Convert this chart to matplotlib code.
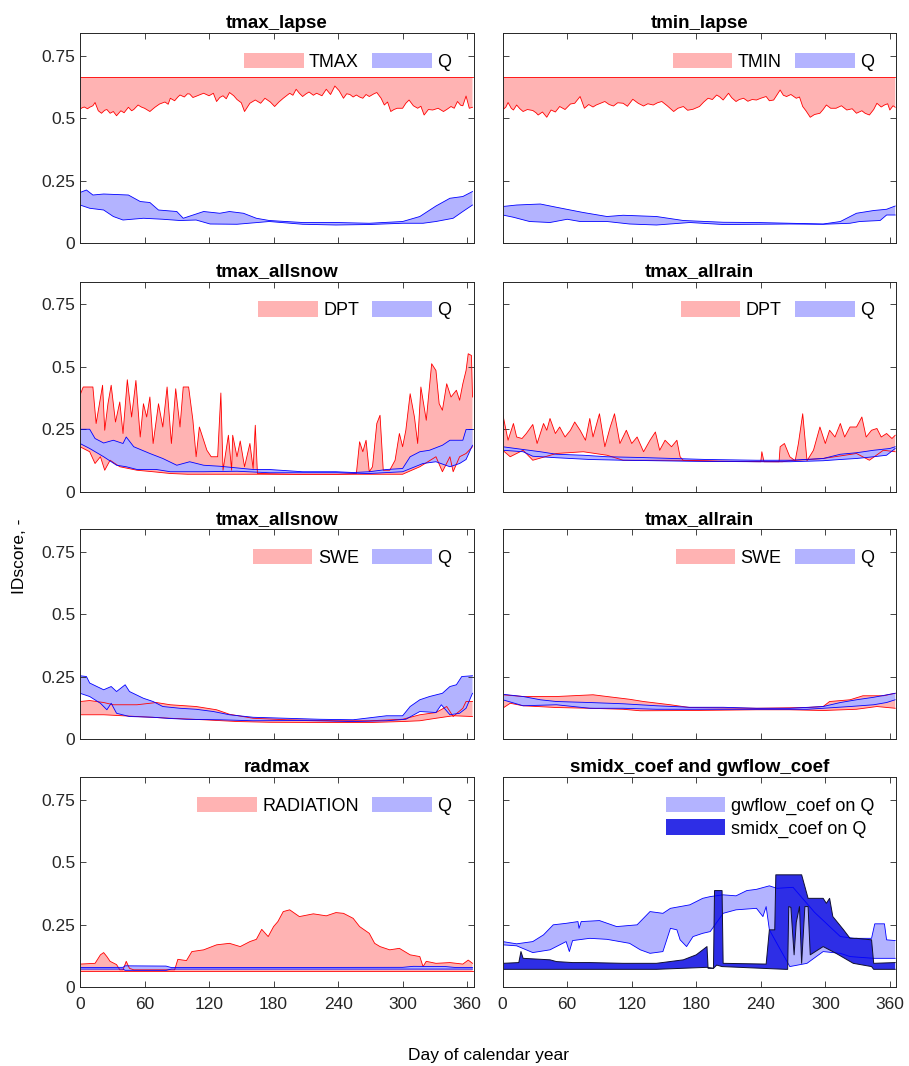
import numpy as np
import matplotlib
matplotlib.use("Agg")
import matplotlib.pyplot as plt
from matplotlib.patches import Patch

plt.rcParams['font.family'] = ['Liberation Sans', 'DejaVu Sans']

# ---- tmax_lapse ----
tmax_top = 0.665
tmax_lo_d = [0, 2, 4, 7, 9, 12, 14, 17, 20, 23, 25, 28, 31, 34, 38, 41, 45, 48, 50, 54, 57, 60, 65, 68, 70, 74,
             79, 82, 84, 88, 91, 93, 97, 100, 102, 105, 108, 112, 115, 120, 124, 127, 130, 133, 136, 139, 143,
             146, 150, 153, 158, 163, 168, 172, 177, 181, 185, 189, 192, 195, 198, 201, 204, 207, 210, 213, 217,
             220, 225, 229, 233, 237, 241, 245, 248, 251, 254, 257, 260, 263, 266, 269, 273, 276, 280, 283, 286,
             289, 292, 295, 300, 303, 306, 310, 314, 317, 320, 324, 328, 333, 338, 341, 345, 348, 351, 354, 356,
             359, 362, 365]
tmax_lo_v = [0.536, 0.542, 0.545, 0.538, 0.544, 0.55, 0.563, 0.53, 0.52, 0.532, 0.535, 0.52, 0.527, 0.51, 0.53,
             0.522, 0.544, 0.53, 0.535, 0.553, 0.545, 0.54, 0.527, 0.538, 0.545, 0.557, 0.565, 0.556, 0.58, 0.57,
             0.585, 0.593, 0.585, 0.598, 0.597, 0.583, 0.588, 0.595, 0.60, 0.59, 0.6, 0.567, 0.583, 0.59, 0.578,
             0.603, 0.59, 0.575, 0.562, 0.527, 0.56, 0.573, 0.56, 0.58, 0.565, 0.547, 0.565, 0.58, 0.59, 0.60,
             0.592, 0.616, 0.6, 0.587, 0.597, 0.605, 0.592, 0.60, 0.59, 0.616, 0.595, 0.629, 0.61, 0.58, 0.598,
             0.595, 0.585, 0.593, 0.585, 0.58, 0.595, 0.587, 0.597, 0.603, 0.58, 0.553, 0.565, 0.527, 0.535,
             0.54, 0.54, 0.56, 0.573, 0.55, 0.54, 0.548, 0.513, 0.535, 0.533, 0.54, 0.527, 0.535, 0.547, 0.54,
             0.567, 0.552, 0.55, 0.589, 0.54, 0.544]
q1_hi_d = [0, 6, 12, 22, 45, 56, 65, 73, 90, 96, 115, 130, 139, 152, 164, 176, 207, 238, 269, 300, 316, 331, 344, 356, 365]
q1_hi_v = [0.203, 0.213, 0.193, 0.197, 0.193, 0.167, 0.163, 0.133, 0.127, 0.10, 0.127, 0.12, 0.127, 0.12, 0.10,
           0.091, 0.083, 0.083, 0.08, 0.087, 0.107, 0.149, 0.18, 0.187, 0.207]
q1_lo_d = [0, 9, 22, 31, 40, 59, 77, 93, 108, 121, 146, 176, 207, 238, 269, 300, 319, 331, 347, 356, 365]
q1_lo_v = [0.153, 0.14, 0.133, 0.107, 0.093, 0.10, 0.096, 0.091, 0.093, 0.077, 0.076, 0.087, 0.076, 0.073, 0.075,
           0.08, 0.08, 0.087, 0.10, 0.127, 0.153]

# ---- tmin_lapse ----
tmin_top = 0.665
tmin_lo_d = [0, 3, 5, 8, 10, 13, 16, 19, 23, 28, 31, 33, 37, 41, 45, 49, 53, 58, 63, 67, 72, 76, 80, 84, 87, 91,
             95, 99, 103, 107, 112, 116, 121, 126, 131, 135, 140, 144, 148, 153, 159, 163, 168, 172, 177, 183,
             187, 191, 195, 199, 202, 205, 210, 213, 217, 220, 224, 228, 232, 236, 240, 245, 248, 252, 258, 261,
             264, 268, 273, 276, 279, 282, 286, 290, 295, 298, 301, 305, 310, 315, 320, 325, 329, 334, 337, 341,
             345, 348, 352, 355, 358, 360, 363, 365]
tmin_lo_v = [0.533, 0.545, 0.563, 0.54, 0.533, 0.553, 0.538, 0.527, 0.535, 0.531, 0.522, 0.513, 0.525, 0.504,
             0.533, 0.525, 0.547, 0.535, 0.557, 0.56, 0.587, 0.54, 0.555, 0.545, 0.553, 0.56, 0.567, 0.555, 0.549,
             0.562, 0.56, 0.548, 0.576, 0.56, 0.549, 0.558, 0.553, 0.562, 0.567, 0.55, 0.527, 0.54, 0.547, 0.532,
             0.536, 0.547, 0.565, 0.58, 0.575, 0.593, 0.585, 0.573, 0.60, 0.582, 0.567, 0.575, 0.58, 0.568, 0.575,
             0.573, 0.58, 0.587, 0.57, 0.573, 0.613, 0.592, 0.587, 0.595, 0.58, 0.585, 0.547, 0.53, 0.504, 0.515,
             0.52, 0.535, 0.553, 0.54, 0.54, 0.55, 0.533, 0.538, 0.52, 0.53, 0.52, 0.513, 0.535, 0.56, 0.545,
             0.553, 0.558, 0.533, 0.55, 0.544]
q2_hi_d = [0, 13, 35, 50, 63, 75, 97, 112, 143, 168, 205, 236, 267, 298, 314, 329, 345, 357, 365]
q2_hi_v = [0.147, 0.153, 0.157, 0.144, 0.133, 0.123, 0.107, 0.112, 0.107, 0.091, 0.084, 0.083, 0.08, 0.077,
           0.087, 0.12, 0.131, 0.136, 0.149]
q2_lo_d = [0, 10, 25, 44, 60, 72, 97, 118, 143, 174, 205, 236, 267, 298, 323, 332, 351, 357, 365]
q2_lo_v = [0.113, 0.104, 0.087, 0.083, 0.096, 0.087, 0.087, 0.077, 0.073, 0.083, 0.075, 0.076, 0.077, 0.076,
           0.08, 0.087, 0.091, 0.113, 0.113]

# ---- tmax_allsnow, DPT ----
dpt3_hi_d = [0, 3, 12, 15, 21, 23, 26, 29, 33, 37, 40, 44, 48, 52, 56, 59, 62, 65, 68, 73, 77, 81, 85, 89, 93,
             96, 101, 105, 108, 111, 118, 122, 128, 131, 133, 138, 141, 142, 146, 149, 153, 158, 161, 163, 165,
             200, 240, 257, 260, 263, 266, 269, 272, 276, 279, 282, 288, 293, 297, 300, 303, 307, 311, 314, 317,
             322, 327, 331, 334, 337, 341, 345, 350, 353, 356, 359, 361, 364, 365]
dpt3_hi_v = [0.386, 0.419, 0.419, 0.273, 0.426, 0.246, 0.352, 0.426, 0.279, 0.359, 0.233, 0.448, 0.299, 0.445,
             0.219, 0.352, 0.299, 0.379, 0.193, 0.352, 0.259, 0.419, 0.193, 0.412, 0.259, 0.419, 0.419, 0.286,
             0.14, 0.259, 0.166, 0.14, 0.14, 0.395, 0.086, 0.226, 0.086, 0.226, 0.14, 0.203, 0.10, 0.193, 0.093,
             0.266, 0.073, 0.07, 0.07, 0.073, 0.20, 0.16, 0.206, 0.08, 0.10, 0.273, 0.306, 0.086, 0.086, 0.126,
             0.233, 0.18, 0.246, 0.392, 0.299, 0.193, 0.419, 0.286, 0.512, 0.485, 0.352, 0.326, 0.432, 0.379,
             0.406, 0.366, 0.432, 0.485, 0.552, 0.545, 0.379]
dpt3_lo_d = [0, 9, 14, 19, 23, 28, 37, 53, 68, 84, 100, 160, 200, 260, 300, 316, 331, 337, 344, 347, 353, 359, 365]
dpt3_lo_v = [0.18, 0.16, 0.113, 0.14, 0.086, 0.126, 0.10, 0.086, 0.08, 0.073, 0.07, 0.07, 0.07, 0.07, 0.07,
             0.10, 0.14, 0.08, 0.14, 0.08, 0.14, 0.153, 0.18]
q3_hi_d = [0, 9, 14, 22, 31, 40, 43, 50, 65, 77, 90, 102, 115, 130, 161, 176, 207, 238, 254, 269, 285, 300, 307,
           316, 325, 337, 344, 356, 359, 365]
q3_hi_v = [0.25, 0.25, 0.213, 0.195, 0.206, 0.193, 0.219, 0.18, 0.153, 0.133, 0.106, 0.12, 0.106, 0.102, 0.089,
           0.089, 0.08, 0.08, 0.077, 0.08, 0.089, 0.093, 0.14, 0.16, 0.166, 0.186, 0.206, 0.206, 0.249, 0.249]
q3_lo_d = [0, 9, 22, 34, 43, 53, 71, 84, 115, 146, 176, 207, 238, 269, 300, 319, 331, 344, 353, 359, 365]
q3_lo_v = [0.193, 0.173, 0.14, 0.106, 0.10, 0.089, 0.089, 0.08, 0.08, 0.082, 0.076, 0.076, 0.076, 0.073, 0.08,
           0.113, 0.12, 0.10, 0.113, 0.129, 0.186]

# ---- tmax_allrain, DPT ----
dpt4_hi_d = [0, 5, 10, 13, 18, 22, 28, 32, 38, 41, 44, 49, 53, 58, 63, 67, 72, 77, 81, 84, 90, 95, 100, 104, 109,
             115, 120, 125, 131, 137, 142, 146, 151, 157, 162, 165, 168, 200, 240, 241, 243, 257, 258, 262, 267,
             272, 275, 279, 283, 289, 295, 300, 304, 309, 314, 318, 323, 329, 334, 338, 343, 348, 352, 357, 362, 365]
dpt4_hi_v = [0.312, 0.206, 0.273, 0.219, 0.213, 0.233, 0.269, 0.193, 0.273, 0.246, 0.293, 0.233, 0.259, 0.219,
             0.246, 0.279, 0.246, 0.206, 0.293, 0.219, 0.312, 0.18, 0.259, 0.312, 0.193, 0.246, 0.193, 0.219, 0.16,
             0.206, 0.239, 0.166, 0.206, 0.18, 0.206, 0.14, 0.125, 0.122, 0.12, 0.16, 0.12, 0.12, 0.18, 0.193,
             0.14, 0.124, 0.193, 0.312, 0.124, 0.166, 0.259, 0.193, 0.246, 0.219, 0.273, 0.219, 0.259, 0.259,
             0.299, 0.219, 0.246, 0.253, 0.219, 0.233, 0.213, 0.226]
dpt4_lo_d = [0, 7, 19, 28, 50, 75, 97, 112, 143, 165, 200, 260, 267, 298, 329, 341, 354, 365]
dpt4_lo_v = [0.166, 0.14, 0.166, 0.126, 0.153, 0.16, 0.146, 0.126, 0.126, 0.126, 0.122, 0.12, 0.124, 0.133,
             0.153, 0.126, 0.166, 0.16]
q4_hi_d = [0, 19, 35, 50, 75, 97, 128, 159, 190, 236, 267, 298, 314, 329, 345, 360, 365]
q4_hi_v = [0.18, 0.169, 0.16, 0.15, 0.146, 0.14, 0.137, 0.133, 0.129, 0.126, 0.126, 0.133, 0.15, 0.156, 0.166,
           0.173, 0.18]
q4_lo_d = [0, 19, 28, 50, 81, 112, 143, 174, 236, 267, 298, 314, 329, 345, 357, 365]
q4_lo_v = [0.166, 0.16, 0.142, 0.136, 0.129, 0.126, 0.124, 0.122, 0.12, 0.12, 0.124, 0.129, 0.133, 0.14, 0.146,
           0.173]

# ---- tmax_allsnow, SWE ----
swe5_hi_d = [0, 9, 22, 31, 53, 71, 84, 108, 127, 139, 161, 192, 238, 269, 300, 316, 331, 341, 347, 356, 359, 365]
swe5_hi_v = [0.151, 0.155, 0.147, 0.138, 0.138, 0.147, 0.138, 0.131, 0.118, 0.10, 0.084, 0.078, 0.074, 0.074,
             0.08, 0.098, 0.107, 0.131, 0.091, 0.124, 0.151, 0.151]
swe5_lo_d = [0, 22, 53, 84, 115, 146, 176, 238, 269, 300, 316, 331, 347, 365]
swe5_lo_v = [0.098, 0.098, 0.091, 0.084, 0.078, 0.071, 0.068, 0.067, 0.067, 0.071, 0.074, 0.084, 0.094, 0.091]
q5_hi_d = [0, 6, 9, 22, 29, 34, 42, 46, 59, 68, 77, 93, 108, 124, 139, 161, 192, 223, 254, 285, 300, 307, 316,
           325, 337, 344, 350, 355, 365]
q5_hi_v = [0.254, 0.251, 0.225, 0.198, 0.211, 0.191, 0.218, 0.191, 0.164, 0.151, 0.131, 0.124, 0.12, 0.111,
           0.098, 0.088, 0.084, 0.08, 0.078, 0.094, 0.094, 0.131, 0.158, 0.171, 0.184, 0.211, 0.218, 0.251, 0.254]
q5_lo_d = [0, 9, 19, 25, 29, 34, 46, 68, 84, 99, 130, 161, 207, 254, 285, 303, 316, 331, 336, 344, 353, 359, 365]
q5_lo_v = [0.184, 0.171, 0.144, 0.118, 0.144, 0.104, 0.091, 0.088, 0.083, 0.08, 0.078, 0.074, 0.075, 0.071,
           0.074, 0.08, 0.111, 0.107, 0.138, 0.098, 0.104, 0.124, 0.184]

# ---- tmax_allrain, SWE ----
swe6_hi_d = [0, 19, 50, 84, 97, 118, 131, 156, 174, 236, 283, 298, 304, 323, 335, 354, 365]
swe6_hi_v = [0.178, 0.171, 0.171, 0.178, 0.171, 0.16, 0.151, 0.138, 0.127, 0.124, 0.127, 0.131, 0.151, 0.158,
             0.174, 0.174, 0.184]
swe6_lo_d = [0, 7, 19, 50, 81, 112, 128, 174, 236, 267, 298, 329, 348, 365]
swe6_lo_v = [0.124, 0.144, 0.134, 0.127, 0.124, 0.12, 0.114, 0.115, 0.118, 0.118, 0.115, 0.12, 0.131, 0.124]
q6_hi_d = [0, 19, 35, 50, 81, 112, 143, 174, 205, 236, 267, 298, 314, 329, 345, 365]
q6_hi_v = [0.18, 0.171, 0.158, 0.151, 0.147, 0.142, 0.134, 0.128, 0.128, 0.124, 0.124, 0.131, 0.147, 0.158,
           0.168, 0.184]
q6_lo_d = [0, 19, 50, 81, 112, 143, 174, 236, 283, 298, 323, 345, 357, 365]
q6_lo_v = [0.158, 0.134, 0.138, 0.124, 0.124, 0.12, 0.12, 0.12, 0.12, 0.124, 0.131, 0.138, 0.147, 0.158]

# ---- radmax ----
rad_bottom = 0.065
rad_hi_d = [0, 14, 19, 22, 25, 28, 34, 37, 40, 43, 46, 50, 88, 91, 99, 104, 115, 127, 139, 149, 158, 164, 169,
            175, 180, 184, 189, 195, 204, 217, 229, 238, 245, 254, 260, 269, 274, 279, 288, 297, 307, 316, 319,
            322, 331, 344, 356, 361, 365]
rad_hi_v = [0.093, 0.096, 0.13, 0.139, 0.123, 0.104, 0.091, 0.07, 0.07, 0.104, 0.076, 0.07, 0.07, 0.112, 0.107,
            0.143, 0.15, 0.17, 0.176, 0.163, 0.183, 0.192, 0.232, 0.203, 0.243, 0.263, 0.303, 0.31, 0.283, 0.294,
            0.286, 0.299, 0.296, 0.276, 0.243, 0.216, 0.176, 0.163, 0.15, 0.156, 0.13, 0.123, 0.083, 0.104,
            0.096, 0.099, 0.093, 0.109, 0.096]
q7_hi_d = [0, 40, 42, 80, 85, 300, 310, 340, 350, 365]
q7_hi_v = [0.079, 0.08, 0.086, 0.085, 0.079, 0.08, 0.084, 0.083, 0.079, 0.079]
q7_lo_d = [0, 40, 42, 80, 85, 365]
q7_lo_v = [0.073, 0.073, 0.068, 0.068, 0.073, 0.073]

# ---- smidx_coef and gwflow_coef ----
gw_hi_d = [0, 13, 28, 38, 47, 59, 70, 71, 73, 90, 106, 125, 137, 149, 156, 165, 174, 186, 193, 205, 217, 227,
           236, 248, 255, 270, 290, 314, 327, 343, 346, 355, 357, 365]
gw_hi_v = [0.183, 0.174, 0.183, 0.21, 0.25, 0.256, 0.263, 0.236, 0.263, 0.267, 0.243, 0.25, 0.303, 0.296, 0.316,
           0.323, 0.33, 0.356, 0.363, 0.37, 0.366, 0.387, 0.392, 0.406, 0.396, 0.40, 0.30, 0.203, 0.196, 0.196,
           0.254, 0.254, 0.19, 0.187]
gw_lo_d = [0, 13, 28, 44, 59, 62, 65, 81, 97, 118, 128, 137, 149, 156, 162, 165, 171, 177, 186, 193, 205, 217,
           236, 242, 245, 248, 267, 283, 298, 314, 323, 345, 365]
gw_lo_v = [0.17, 0.166, 0.139, 0.15, 0.183, 0.143, 0.187, 0.196, 0.192, 0.176, 0.15, 0.136, 0.143, 0.236, 0.23,
           0.19, 0.163, 0.203, 0.216, 0.223, 0.296, 0.31, 0.316, 0.283, 0.323, 0.23, 0.083, 0.096, 0.143, 0.136,
           0.123, 0.116, 0.116]
sm_hi_d = [0, 15, 17, 19, 44, 50, 65, 81, 112, 143, 168, 180, 190, 191, 196, 197, 204, 205, 245, 248, 253, 254,
           278, 284, 298, 301, 304, 307, 317, 323, 329, 343, 345, 365]
sm_hi_v = [0.096, 0.099, 0.143, 0.116, 0.11, 0.103, 0.099, 0.099, 0.096, 0.096, 0.11, 0.13, 0.163, 0.076, 0.076,
           0.387, 0.387, 0.096, 0.093, 0.23, 0.23, 0.45, 0.45, 0.356, 0.356, 0.336, 0.356, 0.283, 0.23, 0.196,
           0.196, 0.19, 0.096, 0.099]
sm_lo_d = [0, 143, 190, 196, 199, 204, 263, 265, 266, 268, 271, 273, 276, 278, 281, 284, 286, 298, 310, 326, 343,
           345, 365]
sm_lo_v = [0.072, 0.072, 0.08, 0.076, 0.089, 0.083, 0.072, 0.072, 0.323, 0.32, 0.13, 0.26, 0.323, 0.096, 0.323,
           0.323, 0.13, 0.163, 0.136, 0.096, 0.083, 0.072, 0.072]

RED_FILL, RED_EDGE = '#ffb3b3', '#ff0000'
BLUE_FILL, BLUE_EDGE = '#b3b3ff', '#0000ff'
DARK_FILL = '#2e2ee6'


def band(ax, hd, hv, ld, lv, fc, ec, lw=0.6):
    hd, hv, ld, lv = map(np.asarray, (hd, hv, ld, lv))
    ax.fill(np.r_[hd, ld[::-1]], np.r_[hv, lv[::-1]], fc=fc, ec='none')
    ax.plot(hd, hv, color=ec, lw=lw)
    ax.plot(ld, lv, color=ec, lw=lw)


fig = plt.figure(figsize=(9.09, 10.66), dpi=100)
lefts = [0.088, 0.553]
bottoms = [0.7718, 0.5387, 0.3065, 0.0738]
W, H = 0.4330, 0.197
axes = [[fig.add_axes([lefts[c], bottoms[r], W, H]) for c in range(2)] for r in range(4)]

full = [0, 365]
panels = [
    (axes[0][0], 'tmax_lapse', 'TMAX',
     (full, [tmax_top] * 2, tmax_lo_d, tmax_lo_v), (q1_hi_d, q1_hi_v, q1_lo_d, q1_lo_v)),
    (axes[0][1], 'tmin_lapse', 'TMIN',
     (full, [tmin_top] * 2, tmin_lo_d, tmin_lo_v), (q2_hi_d, q2_hi_v, q2_lo_d, q2_lo_v)),
    (axes[1][0], 'tmax_allsnow', 'DPT',
     (dpt3_hi_d, dpt3_hi_v, dpt3_lo_d, dpt3_lo_v), (q3_hi_d, q3_hi_v, q3_lo_d, q3_lo_v)),
    (axes[1][1], 'tmax_allrain', 'DPT',
     (dpt4_hi_d, dpt4_hi_v, dpt4_lo_d, dpt4_lo_v), (q4_hi_d, q4_hi_v, q4_lo_d, q4_lo_v)),
    (axes[2][0], 'tmax_allsnow', 'SWE',
     (swe5_hi_d, swe5_hi_v, swe5_lo_d, swe5_lo_v), (q5_hi_d, q5_hi_v, q5_lo_d, q5_lo_v)),
    (axes[2][1], 'tmax_allrain', 'SWE',
     (swe6_hi_d, swe6_hi_v, swe6_lo_d, swe6_lo_v), (q6_hi_d, q6_hi_v, q6_lo_d, q6_lo_v)),
    (axes[3][0], 'radmax', 'RADIATION',
     (rad_hi_d, rad_hi_v, full, [rad_bottom] * 2), (q7_hi_d, q7_hi_v, q7_lo_d, q7_lo_v)),
]

leg_kw = dict(loc='upper right', frameon=False, fontsize=13, handlelength=3.3, handleheight=0.95,
              handletextpad=0.3, borderaxespad=0.5, bbox_to_anchor=(0.985, 0.985))

for ax, title, var, red, blue in panels:
    band(ax, *red, RED_FILL, RED_EDGE)
    band(ax, *blue, BLUE_FILL, BLUE_EDGE)
    ax.set_title(title, fontsize=13.5, fontweight='bold', pad=4)
    ax.legend(handles=[Patch(fc=RED_FILL, ec='none', label=var), Patch(fc=BLUE_FILL, ec='none', label='Q')],
              ncol=2, columnspacing=0.75, **leg_kw)

ax8 = axes[3][1]
band(ax8, gw_hi_d, gw_hi_v, gw_lo_d, gw_lo_v, BLUE_FILL, BLUE_EDGE)
band(ax8, sm_hi_d, sm_hi_v, sm_lo_d, sm_lo_v, DARK_FILL, '#101030', lw=0.7)
ax8.set_title('smidx_coef and gwflow_coef', fontsize=13.5, fontweight='bold', pad=4)
ax8.legend(handles=[Patch(fc=BLUE_FILL, ec='none', label='gwflow_coef on Q'),
                    Patch(fc=DARK_FILL, ec='none', label='smidx_coef on Q')],
           labelspacing=0.25, **leg_kw)

for r in range(4):
    for c in range(2):
        ax = axes[r][c]
        ax.set_xlim(0, 366)
        ax.set_ylim(0, 0.84)
        ax.set_xticks(range(0, 361, 60))
        ax.set_yticks([0, 0.25, 0.5, 0.75])
        ax.set_yticklabels(['0', '0.25', '0.5', '0.75'])
        ax.tick_params(direction='in', top=True, right=True, length=4, width=0.6,
                       labelsize=12.5, colors='#262626')
        ax.tick_params(axis='x', pad=7)
        for s in ax.spines.values():
            s.set_linewidth(0.7)
            s.set_color('#262626')
        if r < 3:
            ax.set_xticklabels([])
        if c == 1:
            ax.set_yticklabels([])

fig.text(0.022, 0.478, 'IDscore, -', rotation=90, ha='center', va='center', fontsize=12.5)
fig.text(0.537, 0.010, 'Day of calendar year', ha='center', va='center', fontsize=12.5)

fig.savefig('out.png', dpi=100)
